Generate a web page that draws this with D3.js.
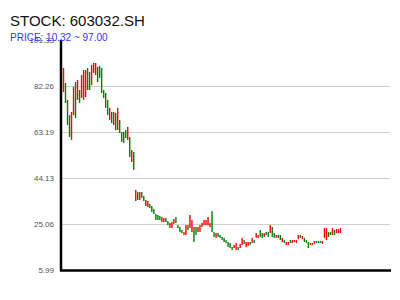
<!DOCTYPE html>
<html>
<head>
<meta charset="utf-8">
<script src="https://cdnjs.cloudflare.com/ajax/libs/d3/7.8.5/d3.min.js"></script>
<style>
  body { margin: 0; background: #fff; }
  svg { font-family: "Liberation Sans", Arial, sans-serif; }
</style>
</head>
<body>
<div class="chart"></div>
<script>
let width = 400;
let height = 300;

let code = '603032.SH';
let priceLow = 10.32;
let priceHigh = 97.00;

// open / close per trading day
let opens = [
  79.8, 83.5, 76.5, 70.2, 59.9, 70.2, 83.9, 76.5, 80.6, 77.3,
  76.5, 77.7, 89.7, 88.1, 82.7, 87.7, 86.8, 90.2, 90.6, 89.7,
  80.6, 79.4, 76.5, 68.2, 71.5, 66.1, 71.1, 64.0, 68.2, 63.2,
  63.2, 64.0, 59.9, 61.1, 50.8, 54.9,
  34.6, 38.3, 35.0, 38.3, 36.7, 32.5, 32.1, 33.4, 32.5, 31.3,
  29.2, 28.8, 28.4, 25.9, 25.9, 27.5, 26.3, 23.4, 23.4, 25.1,
  28.0, 24.6, 23.8, 22.6, 20.5, 20.5, 24.6, 23.4, 21.7, 23.8,
  23.8, 21.7, 21.7, 23.8, 24.6, 24.6, 24.6, 23.8, 30.4, 21.7,
  19.3, 21.3, 20.5, 19.7, 19.3, 18.4, 17.6, 17.2, 15.5, 15.1,
  14.3, 15.5, 15.1, 16.4, 18.4, 15.5, 16.0, 17.6, 17.2, 18.4,
  19.3, 19.3, 22.6, 21.3, 19.7, 21.7, 21.7, 21.3, 23.8, 21.3,
  19.3, 20.5, 20.5, 17.6, 18.4, 16.4, 16.4, 18.4, 17.2, 17.6,
  17.2, 18.8, 20.5, 18.8, 19.3, 18.4, 17.6, 16.4, 16.4, 16.8,
  18.0, 18.0, 18.0, 16.8, 19.3, 18.4, 21.7, 21.7, 20.5, 22.6,
  21.3, 21.3, 21.3
];
let closes = [
  89.7, 75.2, 66.1, 61.1, 71.5, 81.9, 69.0, 84.8, 75.2, 86.8,
  88.9, 88.9, 80.6, 80.6, 91.0, 91.8, 91.8, 83.9, 85.6, 79.4,
  77.3, 73.2, 70.2, 73.2, 66.9, 71.5, 64.0, 73.2, 62.8, 59.1,
  58.6, 60.7, 65.3, 52.8, 55.7, 47.5,
  39.2, 35.0, 38.3, 35.9, 34.6, 35.0, 34.6, 31.7, 30.0, 29.2,
  26.7, 26.7, 26.7, 28.0, 27.5, 25.9, 24.6, 25.5, 25.9, 27.1,
  25.5, 23.4, 21.7, 21.3, 21.7, 24.6, 22.6, 28.8, 26.7, 17.6,
  20.5, 23.8, 24.6, 25.5, 26.7, 26.7, 28.0, 25.5, 21.7, 19.7,
  21.3, 19.7, 19.3, 18.4, 17.6, 17.2, 15.5, 15.1, 14.3, 16.4,
  17.2, 14.3, 16.8, 19.3, 16.8, 17.6, 17.6, 16.4, 19.3, 17.2,
  21.3, 20.5, 19.7, 19.3, 21.3, 20.5, 19.7, 24.6, 19.7, 19.3,
  20.5, 19.3, 18.4, 19.3, 17.2, 17.6, 17.6, 17.2, 18.4, 18.4,
  18.4, 20.5, 19.3, 20.1, 17.6, 17.2, 15.1, 17.2, 17.2, 18.0,
  17.2, 17.2, 17.2, 18.0, 23.4, 23.4, 19.7, 20.5, 23.4, 20.5,
  23.0, 23.0, 23.4
];

let days = opens.map((o, i) => ({ i: i, open: o, close: closes[i] }));

let svg = d3.select('.chart')
  .append('svg')
  .attr('width', width)
  .attr('height', height);

svg.append('text')
  .attr('x', 10)
  .attr('y', 26)
  .style('font-size', '15px')
  .attr('fill', '#111')
  .text('STOCK: ' + code);

// 5% padding around the price range
let pad = (priceHigh - priceLow) * 0.05;
let yMin = priceLow - pad;
let yMax = priceHigh + pad;

let yScale = d3.scaleLinear()
  .domain([yMin, yMax])
  .range([270, 40]);

let xScale = d3.scaleLinear()
  .domain([0, days.length - 1])
  .range([63.5, 340.5]);

let tickVals = d3.range(6).map(i => yMin + (yMax - yMin) * i / 5);

// grid lines
svg.append('g')
  .selectAll('line')
  .data(tickVals.slice(1, 5))
  .enter()
  .append('line')
  .attr('x1', 62)
  .attr('x2', 390)
  .attr('y1', d => Math.round(yScale(d)) + 0.5)
  .attr('y2', d => Math.round(yScale(d)) + 0.5)
  .attr('stroke', '#cfcfcf')
  .attr('stroke-width', 1);

let yAxis = d3.axisLeft(yScale)
  .tickValues(tickVals)
  .tickFormat(d3.format('.2f'))
  .tickSize(0)
  .tickPadding(7);

let gy = svg.append('g')
  .attr('transform', 'translate(61,0)')
  .call(yAxis);
gy.select('.domain').remove();
gy.selectAll('text')
  .style('font-size', '8px')
  .style('font-family', '"Liberation Sans", Arial, sans-serif')
  .attr('fill', '#555');

// candles (bodies)
svg.append('g')
  .selectAll('rect')
  .data(days)
  .enter()
  .append('rect')
  .attr('x', d => xScale(d.i) - 0.7)
  .attr('width', 1.4)
  .attr('y', d => yScale(Math.max(d.open, d.close)))
  .attr('height', d => Math.max(1, Math.abs(yScale(d.open) - yScale(d.close))))
  .attr('fill', d => d.close >= d.open ? '#ff0000' : '#008000');

// axis lines
svg.append('line')
  .attr('x1', 61).attr('x2', 61)
  .attr('y1', 40).attr('y2', 271)
  .attr('stroke', '#000').attr('stroke-width', 2.5);
svg.append('line')
  .attr('x1', 60).attr('x2', 391)
  .attr('y1', 270.5).attr('y2', 270.5)
  .attr('stroke', '#000').attr('stroke-width', 2.5);

svg.append('text')
  .attr('x', 10)
  .attr('y', 41)
  .style('font-size', '10px')
  .attr('fill', '#3333ff')
  .text('PRICE: ' + priceLow.toFixed(2) + ' ~ ' + priceHigh.toFixed(2));
</script>
</body>
</html>
